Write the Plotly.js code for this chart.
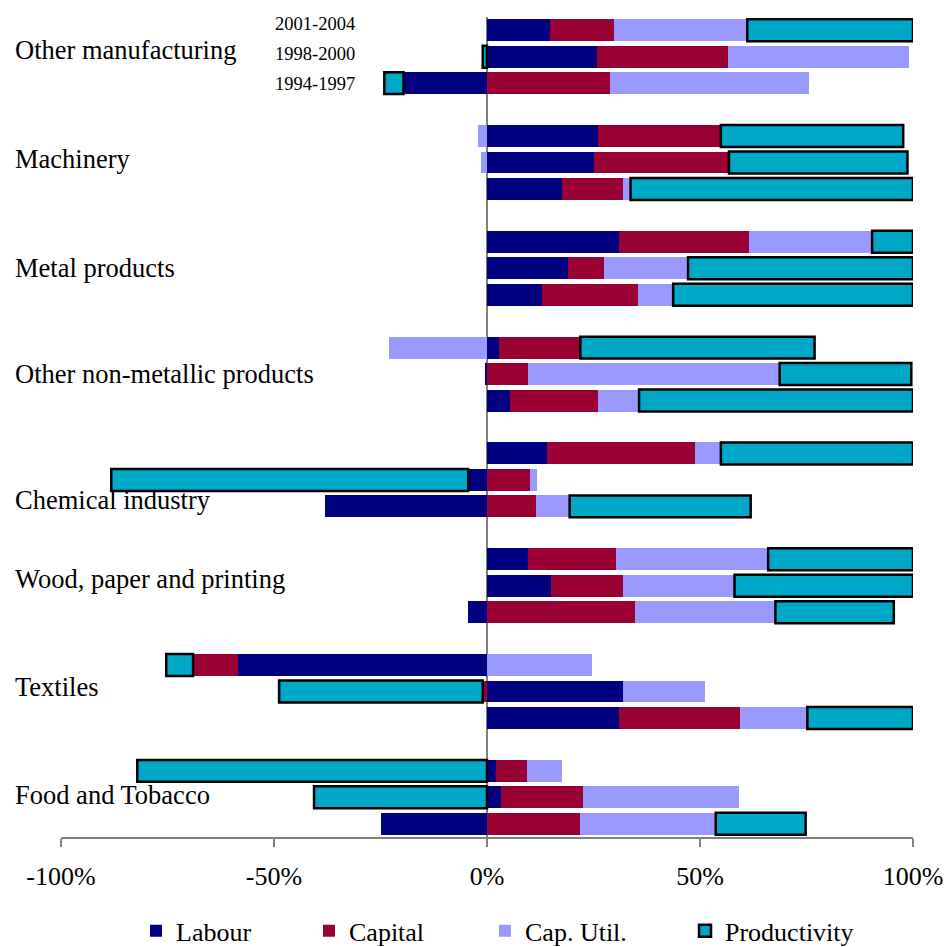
<!DOCTYPE html>
<html><head><meta charset="utf-8">
<script src="https://cdn.plot.ly/plotly-3.0.1.min.js"></script>
<style>html,body{margin:0;padding:0;background:#fff}#chart{width:944px;height:947px}</style>
</head><body><div id="chart"></div>
<script>
const industries = ['Other manufacturing','Machinery','Metal products','Other non-metallic products','Chemical industry','Wood, paper and printing','Textiles','Food and Tobacco'];
const periods = ['2001-2004','1998-2000','1994-1997'];
// each row: [2001-2004, 1998-2000, 1994-1997], in %
const labour = [
 [14.8, 25.8, -19.6],
 [26.1, 25.2, 17.6],
 [30.9, 18.9, 12.8],
 [2.7, -0.4, 5.5],
 [14.0, -4.4, -38.1],
 [9.7, 15.0, -4.4],
 [-58.4, 32.0, 30.9],
 [2.1, 3.2, -25.0]
];
const capital = [
 [15.1, 30.8, 28.8],
 [28.8, 31.6, 14.4],
 [30.6, 8.5, 22.7],
 [19.2, 9.7, 20.6],
 [34.8, 10.0, 11.6],
 [20.5, 17.0, 34.8],
 [-10.6, -1.0, 28.5],
 [7.2, 19.4, 21.9]
];
const capUtil = [
 [31.2, 42.4, 46.8],
 [-2.0, -1.3, 1.7],
 [28.9, 19.8, 8.2],
 [-23.1, 59.0, 9.6],
 [6.1, 1.7, 7.8],
 [35.8, 26.1, 32.9],
 [24.7, 19.2, 15.8],
 [8.3, 36.5, 31.8]
];
const productivity = [
 [38.9, -1.0, -4.5],
 [42.8, 41.9, 66.3],
 [9.6, 52.8, 56.3],
 [55.0, 30.9, 64.3],
 [45.1, -83.8, 42.5],
 [34.0, 41.9, 27.8],
 [-6.3, -47.8, 24.8],
 [-82.1, -40.6, 21.1]
];
const seriesNames = ['Labour','Capital','Cap. Util.','Productivity'];
const tickValues = [-100,-50,0,50,100];
const tickLabels = ['-100%','-50%','0%','50%','100%'];

// ---- presentation ----
const FONT = 'Liberation Serif';
const colors = ['#000080','#990033','#9999FF','#00A8C8'];
const slotsPerGroup = periods.length + 1;
const labelShift = [-7,-3,0,0,20,-7,-5,-2];
const periodShift = [-6,-3,1];
const legendLeft = [136, 309, 485, 685];

const ys = [], xsBy = [[],[],[],[]];
const all = [labour, capital, capUtil, productivity];
industries.forEach((ind, g) => {
  periods.forEach((per, p) => {
    ys.push(g * slotsPerGroup + p);
    all.forEach((s, k) => xsBy[k].push(s[g][p]));
  });
});

const legendIds = ['legend','legend2','legend3','legend4'];
const traces = seriesNames.map((name, k) => ({
  type: 'bar', orientation: 'h', name: name, legend: legendIds[k],
  x: xsBy[k], y: ys, width: 0.83,
  marker: {color: colors[k], line: {color: '#000', width: k === 3 ? 2.5 : 0}},
  hoverinfo: 'skip'
}));

const lastSlot = industries.length * slotsPerGroup - 2;
const annotations = [];
industries.forEach((ind, g) => {
  annotations.push({
    xref: 'paper', yref: 'y', x: -0.056, y: g * slotsPerGroup + 1,
    xanchor: 'left', yanchor: 'middle', yshift: -labelShift[g],
    text: ind, showarrow: false, font: {family: FONT, size: 26.5, color: '#000'}
  });
});
periods.forEach((per, p) => {
  annotations.push({
    xref: 'paper', yref: 'y', x: 0.348, y: p,
    xanchor: 'right', yanchor: 'middle', yshift: -periodShift[p],
    text: per, showarrow: false, font: {family: FONT, size: 18.5, color: '#000'}
  });
});

const layout = {
  width: 944, height: 947,
  margin: {l: 61, r: 31, t: 17, b: 110},
  paper_bgcolor: '#fff', plot_bgcolor: '#fff',
  barmode: 'relative', bargap: 0,
  showlegend: true,
  xaxis: {
    range: [-100, 100], tickvals: tickValues, ticktext: tickLabels,
    showgrid: false, zeroline: true, zerolinecolor: '#808080', zerolinewidth: 1.5,
    showline: true, linecolor: '#808080', linewidth: 1.5,
    ticks: 'outside', ticklen: 8, tickcolor: '#808080', tickwidth: 1.5,
    ticklabelstandoff: 7,
    tickfont: {family: FONT, size: 26, color: '#000'}, fixedrange: true
  },
  yaxis: {
    range: [lastSlot + 0.5, -0.5], showticklabels: false, showgrid: false,
    zeroline: false, showline: false, ticks: '', fixedrange: true
  },
  annotations: annotations,
  font: {family: FONT}
};
legendIds.forEach((id, k) => {
  layout[id] = {
    orientation: 'h', xref: 'container', yref: 'container',
    x: legendLeft[k] / 944, xanchor: 'left', y: 0.017, yanchor: 'middle',
    font: {family: FONT, size: 26, color: '#000'},
    itemwidth: 30, bgcolor: 'rgba(0,0,0,0)'
  };
});

Plotly.newPlot('chart', traces, layout, {displayModeBar: false, staticPlot: true});
</script></body></html>
